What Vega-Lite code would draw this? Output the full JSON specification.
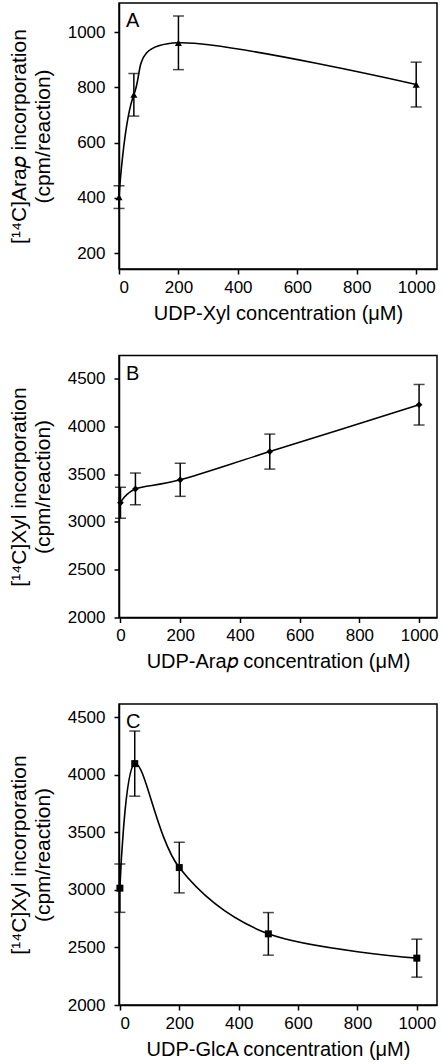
{
  "$schema": "https://vega.github.io/schema/vega-lite/v6.json",
  "padding": {"left": 7, "top": 2, "right": 4, "bottom": 0},
  "autosize": {"type": "pad"},
  "background": "white",
  "datasets": {
    "a": [
      {"conc": 0, "value": 403, "err": 41},
      {"conc": 50, "value": 773, "err": 77},
      {"conc": 200, "value": 961, "err": 97},
      {"conc": 1000, "value": 810, "err": 81}
    ],
    "b": [
      {"conc": 0, "value": 3200, "err": 162},
      {"conc": 50, "value": 3345, "err": 166},
      {"conc": 200, "value": 3440, "err": 173},
      {"conc": 500, "value": 3735, "err": 183},
      {"conc": 1000, "value": 4225, "err": 212}
    ],
    "c": [
      {"conc": 0, "value": 3015, "err": 210},
      {"conc": 50, "value": 4097, "err": 283},
      {"conc": 200, "value": 3194, "err": 220},
      {"conc": 500, "value": 2618, "err": 185},
      {"conc": 1000, "value": 2407, "err": 165}
    ]
  },
  "config": {
    "font": "Liberation Sans",
    "view": {"stroke": "black", "strokeWidth": 1.5},
    "axis": {
      "grid": false,
      "domainColor": "black",
      "domainWidth": 1.5,
      "tickColor": "black",
      "tickWidth": 1.5,
      "tickSize": 5,
      "labelColor": "black",
      "labelFontSize": 17,
      "labelFont": "Liberation Sans",
      "format": "d",
      "titleColor": "black",
      "titleFontWeight": "normal",
      "titleFont": "Liberation Sans"
    },
    "axisY": {"labelPadding": 9, "titlePadding": 14, "titleLineHeight": 24, "titleFontSize": 21},
    "axisX": {"labelPadding": 5, "titlePadding": 8, "titleFontSize": 20},
    "title": {
      "anchor": "start",
      "frame": "group",
      "fontSize": 20,
      "fontWeight": "normal",
      "color": "black",
      "font": "Liberation Sans",
      "baseline": "top",
      "offset": -28,
      "dx": 7
    }
  },
  "spacing": 86.5,
  "bounds": "flush",
  "vconcat": [
    {
      "width": 318,
      "height": 266,
      "title": {"text": "A"},
      "data": {"name": "a"},
      "encoding": {
        "x": {"field": "conc", "type": "quantitative", "scale": {"domain": [0, 1070], "nice": false, "zero": false}, "axis": {"values": [0, 200, 400, 600, 800, 1000], "title": "UDP-Xyl concentration (μM)"}},
        "y": {"field": "value", "type": "quantitative", "scale": {"domain": [143, 1105], "nice": false, "zero": false}, "axis": {"values": [200, 400, 600, 800, 1000], "title": ["[¹⁴C]Ara𝑝 incorporation", "(cpm/reaction)"]}}
      },
      "layer": [
        {"mark": {"type": "line", "interpolate": "cardinal", "color": "black", "strokeWidth": 1.6}},
        {"mark": {"type": "errorbar", "ticks": {"size": 11, "thickness": 1.5, "color": "black"}, "thickness": 1.5, "color": "black"}, "encoding": {"yError": {"field": "err"}}},
        {"mark": {"type": "point", "shape": "triangle-up", "filled": true, "color": "black", "size": 50, "opacity": 1}}
      ]
    },
    {
      "width": 318,
      "height": 262,
      "title": {"text": "B"},
      "data": {"name": "b"},
      "encoding": {
        "x": {"field": "conc", "type": "quantitative", "scale": {"domain": [-5, 1060], "nice": false, "zero": false}, "axis": {"values": [0, 200, 400, 600, 800, 1000], "title": "UDP-Ara𝑝 concentration (μM)"}},
        "y": {"field": "value", "type": "quantitative", "scale": {"domain": [2000, 4740], "nice": false, "zero": false}, "axis": {"values": [2000, 2500, 3000, 3500, 4000, 4500], "title": ["[¹⁴C]Xyl incorporation", "(cpm/reaction)"]}}
      },
      "layer": [
        {"mark": {"type": "line", "interpolate": "cardinal", "color": "black", "strokeWidth": 1.6}},
        {"mark": {"type": "errorbar", "ticks": {"size": 11, "thickness": 1.5, "color": "black"}, "thickness": 1.5, "color": "black"}, "encoding": {"yError": {"field": "err"}}},
        {"mark": {"type": "point", "shape": "diamond", "filled": true, "color": "black", "size": 45, "opacity": 1}}
      ]
    },
    {
      "width": 318,
      "height": 301,
      "title": {"text": "C"},
      "data": {"name": "c"},
      "encoding": {
        "x": {"field": "conc", "type": "quantitative", "scale": {"domain": [-3, 1068], "nice": false, "zero": false}, "axis": {"values": [0, 200, 400, 600, 800, 1000], "title": "UDP-GlcA concentration (μM)"}},
        "y": {"field": "value", "type": "quantitative", "scale": {"domain": [2000, 4615], "nice": false, "zero": false}, "axis": {"values": [2000, 2500, 3000, 3500, 4000, 4500], "title": ["[¹⁴C]Xyl incorporation", "(cpm/reaction)"]}}
      },
      "layer": [
        {"mark": {"type": "line", "interpolate": "cardinal", "color": "black", "strokeWidth": 1.6}},
        {"mark": {"type": "errorbar", "ticks": {"size": 11, "thickness": 1.5, "color": "black"}, "thickness": 1.5, "color": "black"}, "encoding": {"yError": {"field": "err"}}},
        {"mark": {"type": "point", "shape": "square", "filled": true, "color": "black", "size": 49, "opacity": 1}}
      ]
    }
  ]
}
